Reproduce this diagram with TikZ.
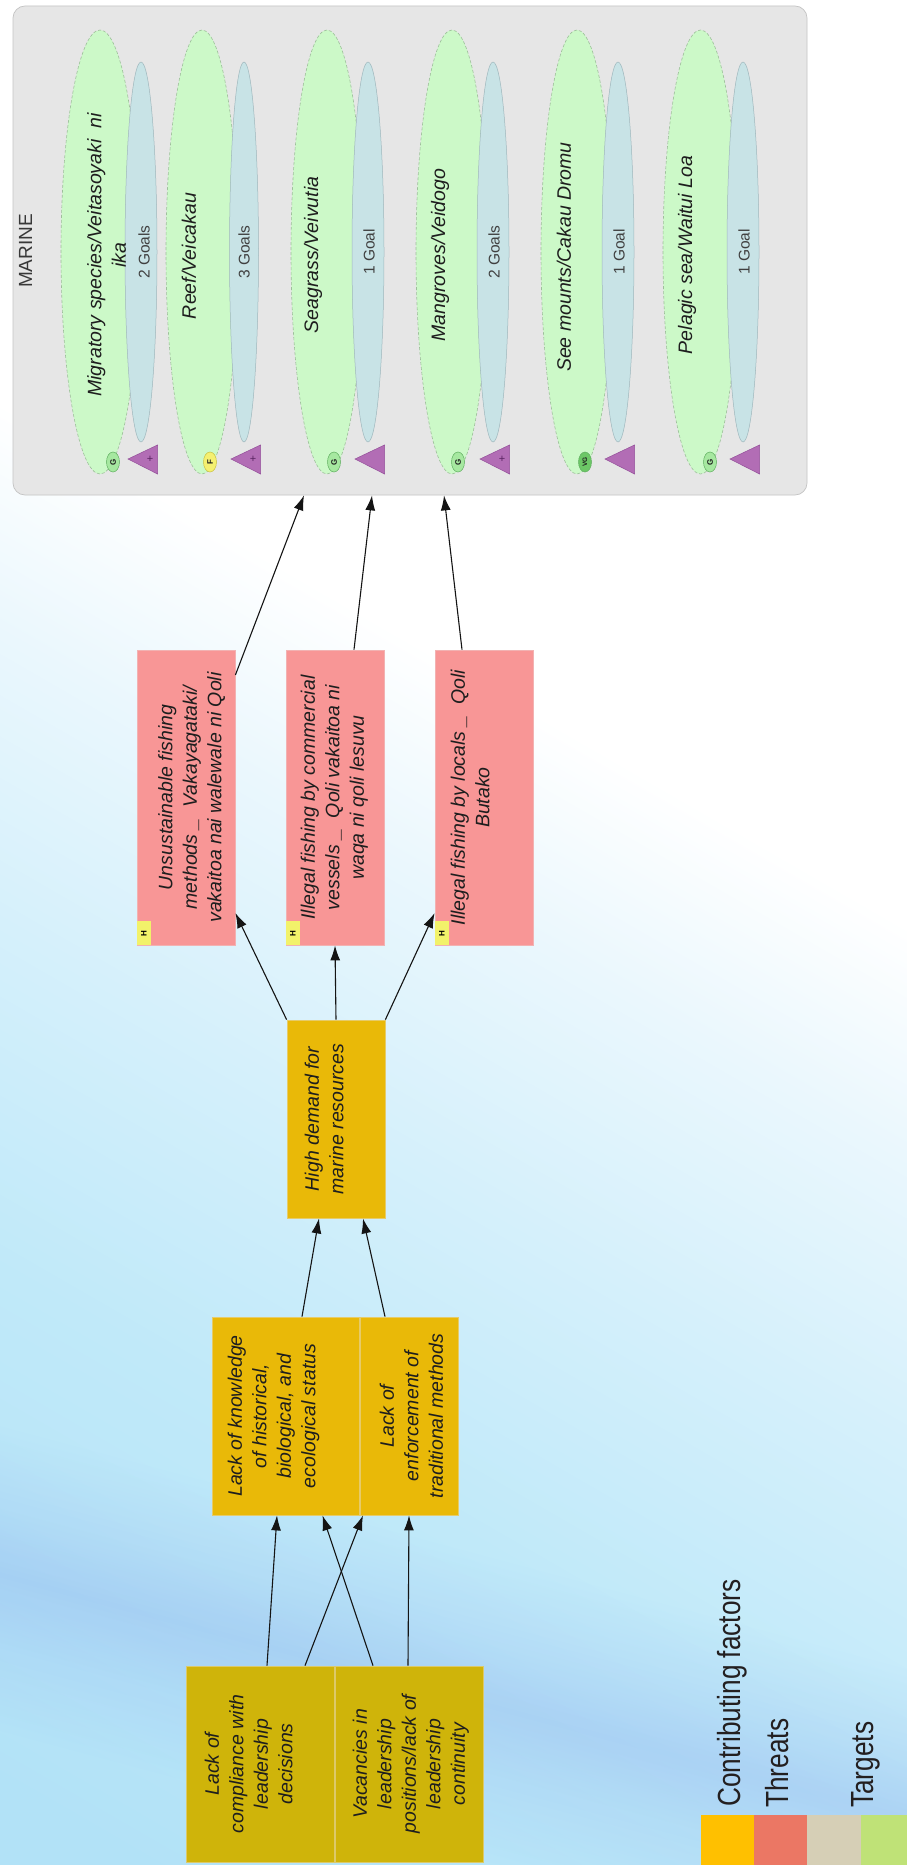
\documentclass[tikz,border=0pt]{standalone}
\usepackage{fontspec}
\setmainfont{Liberation Sans}
\newfontfamily\legendfont[FakeStretch=0.82]{Liberation Sans}
\usetikzlibrary{arrows.meta,shapes.geometric}

% background tints
\definecolor{bgA}{HTML}{EAF7FD}
\definecolor{bgB}{HTML}{D5F0FB}
\definecolor{bgC}{HTML}{C0E9F9}
\definecolor{bgD}{HTML}{B2E2F7}
\definecolor{stA}{HTML}{E6E8FA}
\definecolor{stB}{HTML}{F5F6FD}
% diagram colours
\definecolor{marinefill}{HTML}{E6E6E6}
\definecolor{marineedge}{HTML}{C4C4C4}
\definecolor{tgfill}{HTML}{CCF9C8}
\definecolor{tgedge}{HTML}{9DBF9A}
\definecolor{glfill}{HTML}{C8E3E6}
\definecolor{gledge}{HTML}{9FB7BC}
\definecolor{keafill}{HTML}{B26DB5}
\definecolor{keaedge}{HTML}{94509A}
\definecolor{keaplus}{HTML}{5A2462}
\definecolor{goodfill}{HTML}{A6E8A0}
\definecolor{goodedge}{HTML}{5FAF5F}
\definecolor{vgoodfill}{HTML}{6CC766}
\definecolor{fairfill}{HTML}{F4F070}
\definecolor{fairedge}{HTML}{C9C040}
\definecolor{thrfill}{HTML}{F89696}
\definecolor{thredge}{HTML}{F2B2B2}
\definecolor{cffill}{HTML}{E9B908}
\definecolor{cfedge}{HTML}{E6CB6A}
\definecolor{rootfill}{HTML}{CFB40A}
\definecolor{rootedge}{HTML}{DCC96A}
\definecolor{hfill}{HTML}{F2F26A}
\definecolor{txt}{HTML}{1E1E1E}
\definecolor{lgA}{HTML}{FFC000}
\definecolor{lgB}{HTML}{EB7764}
\definecolor{lgC}{HTML}{D6CFB6}
\definecolor{lgD}{HTML}{BFE277}
\definecolor{lgtext}{HTML}{231F20}

% soft wash from the top right (white) to the bottom left (light blue)
\pgfdeclareverticalshading{bgbase}{100bp}{color(0bp)=(bgD); color(25bp)=(bgD);
  color(32.41bp)=(bgD); color(40.74bp)=(bgC); color(46.30bp)=(bgB);
  color(50.93bp)=(bgA); color(54.63bp)=(white); color(100bp)=(white)}
% a darker streak, multiplied over the wash
\pgfdeclareverticalshading{bgstreak}{100bp}{color(0bp)=(white); color(33.8bp)=(white);
  color(35.2bp)=(stB); color(36.67bp)=(stA); color(38.1bp)=(stB);
  color(39.4bp)=(white); color(100bp)=(white)}

\begin{document}
\begin{tikzpicture}[x=1pt,y=-1pt,
  lbl/.style={rotate=90, align=center, inner sep=0pt, text=txt,
    font=\fontsize{19.5pt}{24.5pt}\selectfont\itshape},
  goaltxt/.style={rotate=90, inner sep=0pt, text=txt!85,
    font=\fontsize{15.5pt}{18pt}\selectfont},
  threat/.style={rectangle, fill=thrfill, draw=thredge, line width=0.8pt,
    minimum width=98pt, minimum height=295pt, inner sep=0pt},
  factor/.style={rectangle, fill=cffill, draw=cfedge, line width=0.8pt,
    minimum height=198pt, inner sep=0pt},
  rootfactor/.style={factor, fill=rootfill, draw=rootedge,
    minimum width=148pt, minimum height=196pt},
  target/.style={ellipse, fill=tgfill, draw=tgedge, dash pattern=on 3pt off 2pt,
    line width=0.6pt, minimum width=72pt, minimum height=444pt, inner sep=0pt},
  goal/.style={ellipse, fill=glfill, draw=gledge, line width=0.5pt,
    minimum width=32pt, minimum height=380pt, inner sep=0pt},
  rating/.style={ellipse, draw=goodedge, fill=goodfill, line width=0.5pt,
    minimum width=13pt, minimum height=20pt, inner sep=0pt,
    font=\fontsize{8pt}{8pt}\selectfont\bfseries, text=txt},
  kea/.style={fill=keafill, draw=keaedge, line width=0.5pt},
  keamark/.style={inner sep=0pt, text=keaplus, font=\fontsize{11pt}{11pt}\selectfont},
  hmark/.style={rectangle, fill=hfill, inner sep=0pt, minimum width=14pt,
    minimum height=24pt, anchor=south west, font=\fontsize{8pt}{8pt}\selectfont\bfseries},
  link/.style={line width=1.1pt, draw=black!92, -{Latex[length=15pt,width=10pt]}},
  swatch/.style={rectangle, inner sep=0pt, minimum width=54pt, minimum height=50pt,
    anchor=north west},
  legendlbl/.style={rotate=90, anchor=base west, inner sep=0pt, text=lgtext,
    font=\legendfont\fontsize{32pt}{32pt}\selectfont}
]
\useasboundingbox (0,0) rectangle (907,1865);

% ---------- background ----------
\begin{scope}
  \clip (0,0) rectangle (907,1865);
  \fill[white] (0,0) rectangle (907,1865);
  \begin{scope}[transform canvas={rotate around={-30:(453.5,932.5)}}]
    \shade[shading=bgbase] (-800,-400) rectangle (1700,2300);
  \end{scope}
  \begin{scope}[blend mode=multiply, transform canvas={rotate around={-15:(453.5,932.5)}}]
    \shade[shading=bgstreak] (-800,-400) rectangle (1700,2300);
  \end{scope}
\end{scope}

% ---------- MARINE group ----------
\node[rectangle, rounded corners=12pt, fill=marinefill, draw=marineedge, line width=0.7pt,
  minimum width=794pt, minimum height=489pt, inner sep=0pt] (marine) at (410,250.5) {};
\node[rotate=90, inner sep=0pt, text=black!78, font=\fontsize{19pt}{19pt}\selectfont]
  (marinelbl) at (25.5,251) {MARINE};

% targets (green) with their goals (blue)
\node[target, minimum width=78pt] (tg1) at (100,252) {};
\node[target] (tg2) at (202,252) {};
\node[target] (tg3) at (327,252) {};
\node[target] (tg4) at (452,252) {};
\node[target] (tg5) at (577,252) {};
\node[target, minimum width=75pt] (tg6) at (700.5,252) {};

\node[goal] (gl1) at (141,252) {};
\node[goal, minimum width=29pt] (gl2) at (244,252) {};
\node[goal] (gl3) at (368,252) {};
\node[goal] (gl4) at (493,252) {};
\node[goal] (gl5) at (618,252) {};
\node[goal] (gl6) at (743,252) {};

\node[lbl, anchor=north] (tx1) at (87,255) {Migratory species/Veitasoyaki\ \ ni\\ika};
\node[lbl] (tx2) at (189,256) {Reef/Veicakau};
\node[lbl] (tx3) at (313,255) {Seagrass/Veivutia};
\node[lbl] (tx4) at (440,255) {Mangroves/Veidogo};
\node[lbl] (tx5) at (564,257) {See mounts/Cakau Dromu};
\node[lbl] (tx6) at (687,255) {Pelagic sea/Waitui Loa};

\node[goaltxt] (gt1) at (144,252) {2 Goals};
\node[goaltxt] (gt2) at (244,252) {3 Goals};
\node[goaltxt] (gt3) at (369,252) {1 Goal};
\node[goaltxt] (gt4) at (494,252) {2 Goals};
\node[goaltxt] (gt5) at (619,252) {1 Goal};
\node[goaltxt] (gt6) at (744,252) {1 Goal};

% viability ratings
\node[rating] (rt1) at (113,462) {\rotatebox{90}{G}};
\node[rating, fill=fairfill, draw=fairedge] (rt2) at (210,462) {\rotatebox{90}{F}};
\node[rating] (rt3) at (334,462) {\rotatebox{90}{G}};
\node[rating] (rt4) at (458,462) {\rotatebox{90}{G}};
\node[rating, fill=vgoodfill, font=\fontsize{6.5pt}{6.5pt}\selectfont\bfseries] (rt5) at (585,462) {\rotatebox{90}{VG}};
\node[rating] (rt6) at (710,462) {\rotatebox{90}{G}};

% key attribute markers
\filldraw[kea] (128,459) -- (157.5,445) -- (157.5,474) -- cycle;
\filldraw[kea] (231,459) -- (260.5,445) -- (260.5,474) -- cycle;
\filldraw[kea] (355,459) -- (384.5,445) -- (384.5,474) -- cycle;
\filldraw[kea] (480,459) -- (509.5,445) -- (509.5,474) -- cycle;
\filldraw[kea] (605,459) -- (634.5,445) -- (634.5,474) -- cycle;
\filldraw[kea] (730,459) -- (759.5,445) -- (759.5,474) -- cycle;
\node[keamark] (pl1) at (150,459.5) {+};
\node[keamark] (pl2) at (253,459.5) {+};
\node[keamark] (pl4) at (502,459.5) {+};

% ---------- threats ----------
\node[threat] (t1) at (186,797.5) {};
\node[threat] (t2) at (335,797.5) {};
\node[threat] (t3) at (484,797.5) {};
\node[lbl, anchor=north] (t1txt) at ([xshift=21.5pt]t1.west)
  {Unsustainable fishing\\methods \_ \ Vakayagataki/\\vakaitoa nai walewale ni Qoli};
\node[lbl, anchor=north] (t2txt) at ([xshift=15pt]t2.west)
  {Illegal fishing by commercial\\vessels \_ \ Qoli vakaitoa ni\\waqa ni qoli lesuvu};
\node[lbl, anchor=north] (t3txt) at ([xshift=16pt]t3.west)
  {Illegal fishing by locals \_ \ Qoli\\Butako};
\node[hmark] (h1) at (t1.south west) {\rotatebox{90}{H}};
\node[hmark] (h2) at (t2.south west) {\rotatebox{90}{H}};
\node[hmark] (h3) at (t3.south west) {\rotatebox{90}{H}};

% ---------- contributing factors ----------
\node[factor, minimum width=98pt] (hd) at (336,1119) {};
\node[lbl, anchor=north] (hdtxt) at ([xshift=18pt]hd.west) {High demand for\\marine resources};

\node[factor, minimum width=147pt] (m1) at (285.5,1416) {};
\node[factor, minimum width=98pt] (m2) at (409,1416) {};
\node[lbl, anchor=north] (m1txt) at ([xshift=16pt]m1.west)
  {Lack of knowledge\\of historical,\\biological, and\\ecological status};
\node[lbl, anchor=north] (m2txt) at ([xshift=20pt]m2.west)
  {Lack of\\enforcement of\\traditional methods};

\node[rootfactor] (b1) at (260,1764) {};
\node[rootfactor] (b2) at (409,1764) {};
\node[lbl, anchor=north] (b1txt) at ([xshift=19pt]b1.west)
  {Lack of\\compliance with\\leadership\\decisions};
\node[lbl, anchor=north] (b2txt) at ([xshift=18pt]b2.west)
  {Vacancies in\\leadership\\positions/lack of\\leadership\\continuity};

% ---------- connectors ----------
\draw[link] ([xshift=7pt]b1.north) -- ([xshift=-8.5pt]m1.south);
\draw[link] ([xshift=45pt]b1.north) -- ([xshift=-46pt]m2.south);
\draw[link] ([xshift=-36pt]b2.north) -- ([xshift=37pt]m1.south);
\draw[link] ([xshift=-1pt]b2.north) -- (m2.south);
\draw[link] ([xshift=16.5pt]m1.north) -- ([xshift=-17pt]hd.south);
\draw[link] ([xshift=-24pt]m2.north) -- ([xshift=27pt]hd.south);
\draw[link] (hd.north west) -- ([yshift=-115.5pt]t1.east);
\draw[link] (hd.north) -- (t2.south);
\draw[link] (hd.north east) -- ([yshift=-115.5pt]t3.west);
\draw[link] ([yshift=122.5pt]t1.east) -- ([xshift=-106pt]marine.south);
\draw[link] ([xshift=19pt]t2.north) -- ([xshift=-38pt]marine.south);
\draw[link] ([xshift=-22pt]t3.north) -- ([xshift=34pt]marine.south);

% ---------- legend ----------
\node[swatch, fill=lgA] (sw1) at (701,1815) {};
\node[swatch, fill=lgB] (sw2) at (754,1815) {};
\node[swatch, fill=lgC] (sw3) at (807,1815) {};
\node[swatch, fill=lgD] (sw4) at (861,1815) {};
\node[legendlbl] (lg1) at (740,1807) {Contributing factors};
\node[legendlbl] (lg2) at (788,1808) {Threats};
\node[legendlbl] (lg3) at (873,1808) {Targets};
\end{tikzpicture}
\end{document}
